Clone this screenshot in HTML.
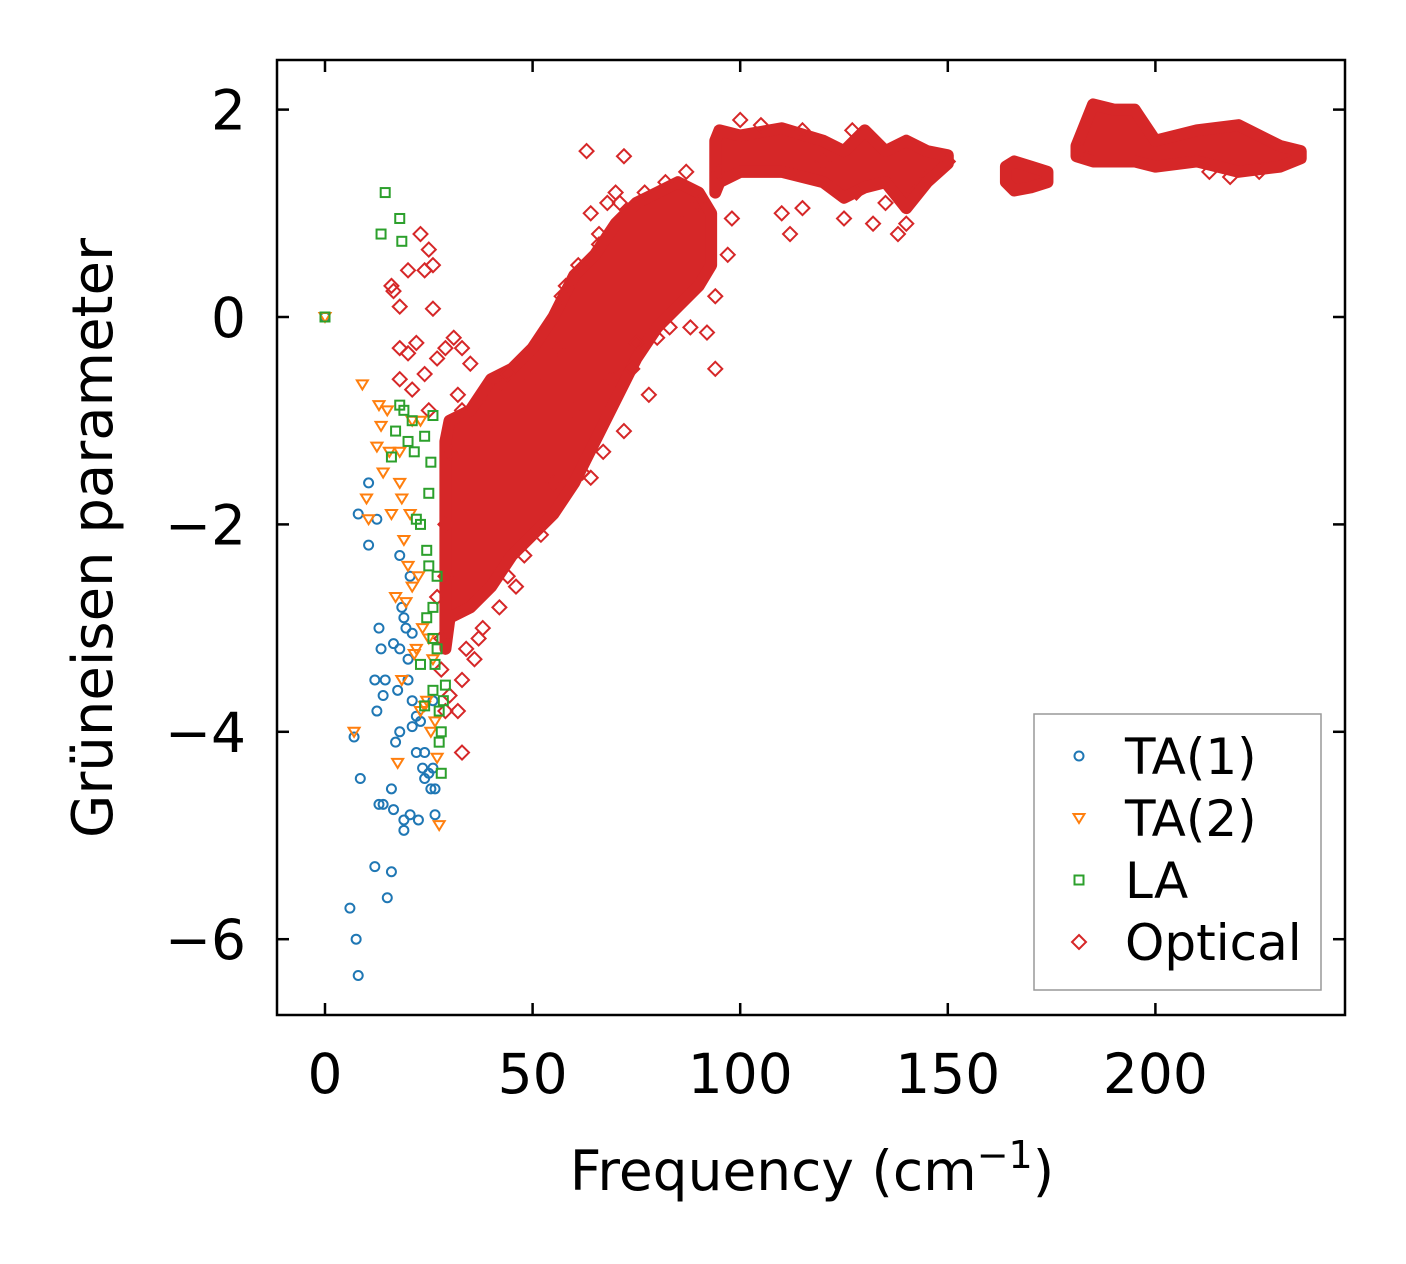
<!DOCTYPE html>
<html><head><meta charset="utf-8"><style>
html,body{margin:0;padding:0;background:#fff}
svg{display:block;font-family:"DejaVu Sans","Liberation Sans",sans-serif}
</style></head><body>
<svg id="chart" width="1406" height="1264" viewBox="0 0 1406 1264" xmlns="http://www.w3.org/2000/svg">
<rect x="0" y="0" width="1406" height="1264" fill="#fff"/>
<g id="plot"></g>
</svg>
<script>
const xTicks=[0,50,100,150,200];
const yTicks=[2,0,-2,-4,-6];
const yTickLabels=["2","0","\u22122","\u22124","\u22126"];
const ta1X=[0,6,7,7.5,8,8,8.5,10.5,10.5,12,12,12.5,12.5,13,13,13.5,14,14,14.5,15,16,16,16.5,16.5,17,17.5,18,18,18,18.5,19,19,19,19.5,20,20,20.5,20.5,21,21,21,22,22,22.5,23,23.5,24,24,25,25.5,26,26.5,26.5,26];
const ta1Y=[0,-5.7,-4.05,-6,-6.35,-1.9,-4.45,-1.6,-2.2,-5.3,-3.5,-1.95,-3.8,-3,-4.7,-3.2,-4.7,-3.65,-3.5,-5.6,-5.35,-4.55,-4.75,-3.15,-4.1,-3.6,-4,-2.3,-3.2,-2.8,-4.85,-4.95,-2.9,-3,-3.5,-3.3,-2.5,-4.8,-3.05,-3.7,-3.95,-4.2,-3.85,-4.85,-3.9,-4.35,-4.2,-4.45,-4.4,-4.55,-4.35,-4.55,-4.8,-3.7];
const ta2X=[0,7,9,10,10.5,12.5,13,13.5,14,15,15.5,16,17,17.5,18,18,18.5,18.5,19,19.5,20,20.5,21,21.5,22,22.5,23,23.5,24,24.5,25,25.5,26,27,27.5,26.5,23,21];
const ta2Y=[0,-4,-0.65,-1.75,-1.95,-1.25,-0.85,-1.05,-1.5,-0.9,-1.3,-1.9,-2.7,-4.3,-1.6,-1.3,-1.75,-3.5,-2.15,-2.75,-2.4,-1.9,-2.6,-3.25,-3.2,-2.5,-3.8,-3,-3.75,-3.7,-3.1,-4,-3.3,-4.25,-4.9,-3.9,-1,-1];
const laX=[0,14.5,13.5,18,18.5,16,17,18,19,20,21,21.5,22,23,24,24.5,24.5,25,25.5,25,26,26,26.5,26,27,27,27.5,28,28,28.5,29,27.5,24,23,26];
const laY=[0,1.2,0.8,0.95,0.73,-1.35,-1.1,-0.85,-0.9,-1.2,-1,-1.3,-1.95,-2,-1.15,-2.25,-2.9,-1.7,-1.4,-2.4,-0.95,-2.8,-3.35,-3.6,-2.5,-3.2,-3.8,-4,-4.4,-3.7,-3.55,-4.1,-3.75,-3.35,-3.1];
const optX=[23,24,25,26,16,16.5,18,20,26,18,20,22,24,27,29,31,33,35,21,18,25,32,33,32,33,30,28,29,36,38,42,46,48,52,42,44,38,64,67,72,78,64,68,70,72,63,66,75,83,88,92,94,94,97,98,95,100,110,112,115,120,125,128,132,135,138,140,142,145,150,127,105,115,182,213,218,225,60,56,58,50,40,33,30,29,29,27,28,34,37,44,55,62,69,74,80,86,90,57,61,66,71,77,82,87];
const optY=[0.8,0.45,0.65,0.5,0.3,0.25,0.1,0.45,0.08,-0.3,-0.35,-0.25,-0.55,-0.4,-0.3,-0.2,-0.3,-0.45,-0.7,-0.6,-0.9,-0.75,-3.5,-3.8,-4.2,-3.65,-3.4,-3.8,-3.3,-3,-2.8,-2.6,-2.3,-2.1,-0.65,-0.55,-0.75,-1.55,-1.3,-1.1,-0.75,1,1.1,1.2,1.55,1.6,0.8,-0.25,-0.1,-0.1,-0.15,-0.5,0.2,0.6,0.95,1.4,1.9,1,0.8,1.05,1.5,0.95,1.2,0.9,1.1,0.8,0.9,1.2,1.35,1.5,1.8,1.85,1.8,1.6,1.4,1.35,1.4,-0.9,-0.3,0.3,-0.6,-1,-0.9,-1.3,-2.5,-2,-2.7,-3.1,-3.2,-3.1,-2.5,-1.6,-1.5,-0.6,-0.5,-0.2,0.9,1.1,0.2,0.5,0.7,1.1,1.2,1.3,1.4];
const band1X=[29,30,35,40,45,50,55,60,65,70,75,80,85,90,93];
const band1Lo=[-3.2,-2.9,-2.8,-2.6,-2.3,-2.1,-1.9,-1.6,-1.2,-0.8,-0.4,-0.1,0.1,0.3,0.5];
const band1Hi=[-1.2,-1.0,-0.9,-0.6,-0.5,-0.3,0,0.4,0.6,0.9,1.1,1.2,1.3,1.2,1.0];
const band2X=[94,95,100,110,120,125,130,135,140,145,150];
const band2Lo=[1.2,1.3,1.4,1.4,1.3,1.15,1.25,1.3,1.05,1.3,1.48];
const band2Hi=[1.7,1.8,1.75,1.82,1.7,1.6,1.8,1.6,1.7,1.6,1.56];
const band3X=[164,166,170,174];
const band3Lo=[1.3,1.22,1.25,1.3];
const band3Hi=[1.45,1.5,1.45,1.4];
const band4X=[181,185,190,195,200,210,220,230,235];
const band4Lo=[1.55,1.5,1.5,1.5,1.45,1.5,1.4,1.45,1.53];
const band4Hi=[1.65,2.05,2.0,2.0,1.7,1.8,1.85,1.65,1.6];

const NS="http://www.w3.org/2000/svg";
const L=277,R=1345,T=60,B=1015;
const X=v=>325+v*4.152;
const Y=v=>317-v*103.7;
const g=document.getElementById('plot');
function mk(tag,attrs){const e=document.createElementNS(NS,tag);for(const k in attrs)e.setAttribute(k,attrs[k]);g.appendChild(e);return e;}
const colors={ta1:"#1f77b4",ta2:"#ff7f0e",la:"#2ca02c",opt:"#d62728"};

function band(xs,lo,hi,name){
  let pts=xs.map((x,i)=>X(x)+","+Y(hi[i]));
  for(let i=xs.length-1;i>=0;i--)pts.push(X(xs[i])+","+Y(lo[i]));
  const p=mk('polygon',{points:pts.join(" "),fill:colors.opt,stroke:colors.opt,'stroke-width':12,'stroke-linejoin':'round'});
  
  
}
function circle(cx,cy){return mk('circle',{cx:cx,cy:cy,r:4.5,fill:'none',stroke:colors.ta1,'stroke-width':2});}
function tri(cx,cy){return mk('polygon',{points:`${cx-5.5},${cy-4} ${cx+5.5},${cy-4} ${cx},${cy+5}`,fill:'none',stroke:colors.ta2,'stroke-width':2});}
function sq(cx,cy){return mk('rect',{x:cx-4.5,y:cy-4.5,width:9,height:9,fill:'none',stroke:colors.la,'stroke-width':2});}
function dia(cx,cy){return mk('polygon',{points:`${cx},${cy-7} ${cx+7},${cy} ${cx},${cy+7} ${cx-7},${cy}`,fill:'none',stroke:colors.opt,'stroke-width':2});}

band(band1X,band1Lo,band1Hi,'optical-band-low');
band(band2X,band2Lo,band2Hi,'optical-band-mid');
band(band3X,band3Lo,band3Hi,'optical-band-170');
band(band4X,band4Lo,band4Hi,'optical-band-high');
optX.forEach((x,i)=>{const e=dia(X(x),Y(optY[i]));

});
ta1X.forEach((x,i)=>{const e=circle(X(x),Y(ta1Y[i]));

});
ta2X.forEach((x,i)=>{const e=tri(X(x),Y(ta2Y[i]));

});
laX.forEach((x,i)=>{const e=sq(X(x),Y(laY[i]));

});

const fr=mk('rect',{x:L,y:T,width:R-L,height:B-T,fill:'none',stroke:'#000','stroke-width':2.5});


xTicks.forEach(v=>{
  const x=X(v);
  const t1=mk('line',{x1:x,y1:B,x2:x,y2:B-12,stroke:'#000','stroke-width':2.5});
  
  
  const t2=mk('line',{x1:x,y1:T,x2:x,y2:T+12,stroke:'#000','stroke-width':2.5});
  
  
  const tx=mk('text',{x:x,y:1093,'font-size':55,'text-anchor':'middle',fill:'#000'});
  tx.textContent=String(v);
  
  
});
yTicks.forEach((v,i)=>{
  const y=Y(v);
  const t1=mk('line',{x1:L,y1:y,x2:L+12,y2:y,stroke:'#000','stroke-width':2.5});
  
  
  const t2=mk('line',{x1:R,y1:y,x2:R-12,y2:y,stroke:'#000','stroke-width':2.5});
  
  
  const tx=mk('text',{x:246,y:y+20,'font-size':55,'text-anchor':'end',fill:'#000'});
  tx.textContent=yTickLabels[i];
  
  
});
const xl=mk('text',{x:812,y:1190,'font-size':55,'text-anchor':'middle',fill:'#000'});
xl.innerHTML='Frequency (cm<tspan dy="-22" font-size="38">\u22121</tspan><tspan dy="22">)</tspan>';


const yl=mk('text',{x:0,y:0,'font-size':56,'text-anchor':'middle',fill:'#000',transform:'translate(112,538) rotate(-90)'});
yl.textContent='Grüneisen parameter';



const lb=mk('rect',{x:1034,y:714,width:287,height:276,fill:'#fff',stroke:'#999','stroke-width':1.5});


const legNames=["TA(1)","TA(2)","LA","Optical"];
const legFns=[circle,tri,sq,dia];
const legKeys=["ta1","ta2","la","opt"];
legNames.forEach((n,i)=>{
  const y=756+i*62;
  const m=legFns[i](1079,y);
  
  
  const t=mk('text',{x:1125,y:y+18,'font-size':50,fill:'#000'});
  t.textContent=n;
  
  
});
</script>
</body></html>
